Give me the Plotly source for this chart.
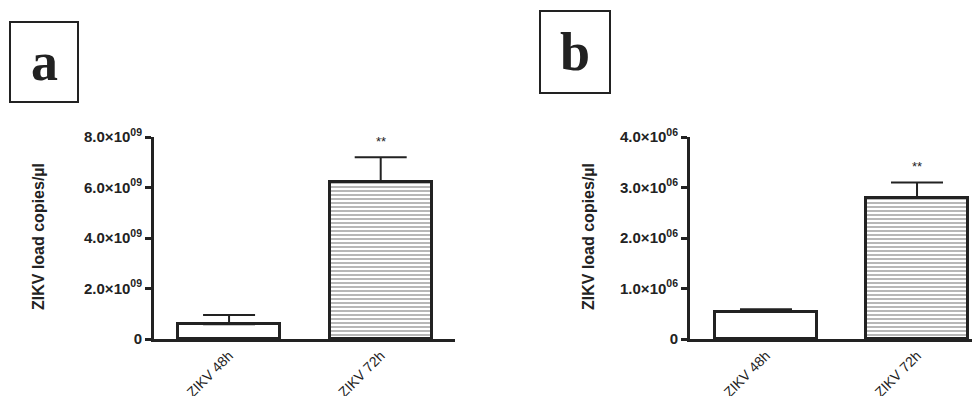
import plotly.graph_objects as go

categories = ["ZIKV 48h", "ZIKV 72h"]
values_a = [0.58e9, 6.22e9]
errors_a = [0.37e9, 0.98e9]
values_b = [0.54e6, 2.79e6]
errors_b = [0.05e6, 0.31e6]
ticks_a = [0, 2e9, 4e9, 6e9, 8e9]
ticklabels_a = ["0", "2.0×10<sup>09</sup>", "4.0×10<sup>09</sup>", "6.0×10<sup>09</sup>", "8.0×10<sup>09</sup>"]
ticks_b = [0, 1e6, 2e6, 3e6, 4e6]
ticklabels_b = ["0", "1.0×10<sup>06</sup>", "2.0×10<sup>06</sup>", "3.0×10<sup>06</sup>", "4.0×10<sup>06</sup>"]
significance = ["", "**"]
panel_labels = ["a", "b"]
y_title = "ZIKV load copies/µl"

# the page body has an 8px margin, so the figure is 8px smaller and shifted
OFF = 8
W, H = 980 - OFF, 396 - OFF
INK = "#222222"
FONT = "Liberation Sans"


def px(x):
    return (x - OFF) / W


def py(y):
    return 1 - (y - OFF) / H


fig = go.Figure()

def add_panel(values, errors, xa, ya):
    fig.add_trace(go.Bar(
        x=[0, 1], y=values, width=0.67,
        xaxis=xa, yaxis=ya,
        marker=dict(
            color="white",
            line=dict(color=INK, width=3),
            pattern=dict(shape=["", "-"], size=4, solidity=0.4, fgcolor="#4a4a4a", bgcolor="white"),
        ),
        error_y=dict(type="data", array=errors, arrayminus=[0, 0], symmetric=False,
                     color=INK, thickness=2, width=26),
        showlegend=False, hoverinfo="skip",
    ))
    for i, s in enumerate(significance):
        if s:
            fig.add_annotation(x=i, y=values[i] + errors[i], xref=xa, yref=ya,
                               text=s, showarrow=False, yanchor="bottom", yshift=6,
                               font=dict(family=FONT, size=13, color=INK))

add_panel(values_a, errors_a, "x", "y")
add_panel(values_b, errors_b, "x2", "y2")

ydom = [py(339), py(137)]
axis_common = dict(showgrid=False, zeroline=False, showline=True, linecolor=INK, linewidth=3,
                   automargin=False)
tickfont_y = dict(family=FONT, size=15, color=INK, weight="bold")
tickfont_x = dict(family=FONT, size=14, color=INK)
title_font = dict(family=FONT, size=16, color=INK, weight="bold")

fig.update_layout(
    width=W, height=H,
    margin=dict(l=0, r=0, t=0, b=0),
    paper_bgcolor="white", plot_bgcolor="white",
    bargap=0,
    xaxis=dict(domain=[px(154), px(455)], range=[-0.495, 1.49], anchor="y",
               tickvals=[0, 1], ticktext=categories, tickangle=-45, ticks="",
               tickfont=tickfont_x, **axis_common),
    yaxis=dict(domain=ydom, range=[0, 8e9], anchor="x",
               tickvals=ticks_a, ticktext=ticklabels_a, ticks="outside", ticklen=6,
               tickwidth=3, tickcolor=INK, tickfont=tickfont_y, **axis_common),
    xaxis2=dict(domain=[px(690), 1.0], range=[-0.503, 1.417], anchor="y2",
                tickvals=[0, 1], ticktext=categories, tickangle=-45, ticks="",
                tickfont=tickfont_x, **axis_common),
    yaxis2=dict(domain=ydom, range=[0, 4e6], anchor="x2",
                tickvals=ticks_b, ticktext=ticklabels_b, ticks="outside", ticklen=6,
                tickwidth=3, tickcolor=INK, tickfont=tickfont_y, **axis_common),
)

# y-axis titles
for xc in (38, 588):
    fig.add_annotation(xref="paper", yref="paper", x=px(xc), y=py(237),
                       text=y_title, textangle=-90, showarrow=False,
                       xanchor="center", yanchor="middle", font=title_font)

# panel label boxes
boxes = [(10, 22, 78, 102), (540, 11, 610, 93)]
for (x0, y0, x1, y1), lab in zip(boxes, panel_labels):
    fig.add_shape(type="rect", xref="paper", yref="paper",
                  x0=px(x0), x1=px(x1), y0=py(y1), y1=py(y0),
                  line=dict(color=INK, width=2))
    fig.add_annotation(xref="paper", yref="paper", x=px((x0 + x1) / 2), y=py((y0 + y1) / 2),
                       text=lab, showarrow=False, xanchor="center", yanchor="middle",
                       font=dict(family="Liberation Serif", size=54, color=INK, weight="bold"))

fig.write_html("out.html")
